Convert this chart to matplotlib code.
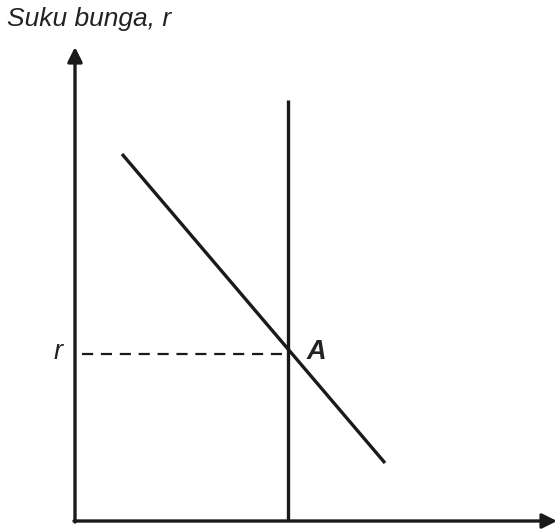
import matplotlib
matplotlib.use('Agg')
import matplotlib.pyplot as plt

# Diagram values (units measured from the origin of the axes)
axis_x_end = 482
axis_y_end = 474
supply_x = [213, 213]
supply_y = [0, 421]
demand_x = [47, 310]
demand_y = [367, 58]
r_level = 167
title = 'Suku bunga, r'

plt.rcParams['font.family'] = ['Liberation Sans', 'DejaVu Sans']

fig = plt.figure(figsize=(5.57, 5.30), dpi=100)
ax = fig.add_axes([0, 0, 1, 1])
ax.set_xlim(-75, 482)
ax.set_ylim(-9, 521)
ax.axis('off')

lw = 2.4
col = '#1a1a1a'

# axes with arrow heads
ax.annotate('', xy=(0, axis_y_end), xytext=(0, -1),
            arrowprops=dict(arrowstyle='-|>', color=col, lw=lw,
                            mutation_scale=22, shrinkA=0, shrinkB=0))
ax.annotate('', xy=(axis_x_end, 0), xytext=(-1, 0),
            arrowprops=dict(arrowstyle='-|>', color=col, lw=lw,
                            mutation_scale=22, shrinkA=0, shrinkB=0))

# vertical line and downward sloping line
ax.plot(supply_x, supply_y, color=col, lw=lw, solid_capstyle='butt')
ax.plot(demand_x, demand_y, color=col, lw=lw, solid_capstyle='butt')

# dashed guide at r
ax.plot([7, supply_x[0]], [r_level, r_level], color=col, lw=1.6,
        linestyle=(0, (5, 3.5)))

ax.text(-68, 495, title, fontsize=19, style='italic', color='#222222',
        ha='left', va='baseline')
ax.text(-12, r_level - 5, 'r', fontsize=19.5, style='italic', color='#222222',
        ha='right', va='baseline')
ax.text(232, r_level - 5, 'A', fontsize=19.5, style='italic', weight='bold',
        color='#222222', ha='left', va='baseline')

fig.savefig('out.png', dpi=100)
